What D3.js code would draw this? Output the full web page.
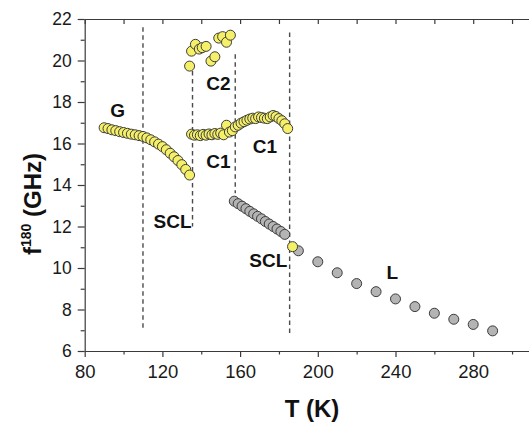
<!DOCTYPE html>
<html>
<head>
<meta charset="utf-8">
<script src="https://cdn.jsdelivr.net/npm/d3@7"></script>
<style>
  body { margin: 0; background: #fff; }
  svg { display: block; }
</style>
</head>
<body>
<script>
const width = 529
const height = 425

// values
const gT = [90, 92, 94, 96, 98, 100, 102, 104, 106, 108, 110, 112, 114, 116, 118, 120, 122, 124, 126, 128, 130, 132, 134]
const gF = [16.76, 16.72, 16.66, 16.62, 16.57, 16.53, 16.49, 16.45, 16.42, 16.38, 16.34, 16.27, 16.18, 16.08, 15.97, 15.85, 15.70, 15.53, 15.36, 15.18, 14.98, 14.75, 14.48]

const c1aT = [135, 136.5, 138, 139.5, 141, 142.5, 144, 145.5, 147, 148.5, 150, 151.5, 153, 154.5]
const c1aF = [16.45, 16.40, 16.42, 16.38, 16.44, 16.40, 16.46, 16.42, 16.48, 16.44, 16.50, 16.42, 16.88, 16.55]

const c1bT = [156, 157.5, 159, 160.5, 162, 163.5, 165, 166.5, 168, 169.5, 171, 172.5, 174, 175.5, 177, 178.5, 180, 181.5, 183, 184.5]
const c1bF = [16.62, 16.80, 16.88, 16.98, 17.05, 17.12, 17.18, 17.22, 17.20, 17.28, 17.25, 17.22, 17.20, 17.28, 17.35, 17.30, 17.20, 17.10, 16.95, 16.72]

const c2T = [134, 135, 137, 139, 140.5, 142.5, 145, 147, 149, 151, 153, 155]
const c2F = [19.73, 20.45, 20.78, 20.55, 20.62, 20.68, 19.97, 20.18, 21.08, 21.15, 20.88, 21.22]

const yellowExtraT = [187]
const yellowExtraF = [11.03]

const sclT = [157, 159, 161, 163, 165, 167, 169, 171, 173, 175, 177, 179, 181, 183]
const sclF = [13.22, 13.10, 12.98, 12.86, 12.73, 12.61, 12.49, 12.37, 12.24, 12.12, 12.00, 11.88, 11.76, 11.62]

const liqT = [190, 200, 210, 220, 230, 240, 250, 260, 270, 280, 290]
const liqF = [10.83, 10.30, 9.77, 9.25, 8.86, 8.51, 8.14, 7.82, 7.53, 7.28, 6.97]

// phase boundaries (dashed lines)
const boundT = [110, 135.5, 157.5, 185.5]
const boundTop = [21.6, 19.5, 20.3, 21.35]
const boundBottom = [7.1, 12.0, 13.6, 6.7]

// region labels
const labelText = ["G", "C2", "C1", "C1", "SCL", "SCL", "L"]
const labelT = [97, 148.8, 148.8, 172.8, 125.2, 174.5, 238.4]
const labelF = [17.28, 18.6, 14.84, 15.54, 11.93, 10.07, 9.47]

const xMajor = [80, 120, 160, 200, 240, 280]
const xMinor = [100, 140, 180, 220, 260, 300]
const xTop = [80, 100, 120, 140, 160, 180, 200, 220, 240, 260, 280, 300]
const yMajor = [6, 8, 10, 12, 14, 16, 18, 20, 22]
const yMinor = [7, 9, 11, 13, 15, 17, 19, 21]

const yellow = "#f5f068"
const grey = "#b4b4b4"
const font = "'Liberation Sans', Arial, sans-serif"

const x = d3.scaleLinear().domain([80, 320]).range([84.7, 550.9])
const y = d3.scaleLinear().domain([6, 22]).range([351, 19])

const svg = d3.select("body").append("svg")
    .attr("width", width)
    .attr("height", height)
    .attr("viewBox", [0, 0, width, height])
    .style("font-family", font)

// axes
const axisColor = "#3a3a3a"

const styleAxis = g => {
  g.selectAll("path, line").attr("stroke", axisColor).attr("stroke-width", 1.2)
  g.selectAll("text").attr("fill", "#1a1a1a").style("font-family", font)
}

svg.append("g")
    .attr("transform", `translate(0,${y(6)})`)
    .call(d3.axisBottom(x).tickValues(xMajor).tickSize(6).tickPadding(8).tickSizeOuter(0))
    .call(g => g.selectAll("text").style("font-size", "18.5px"))
    .call(styleAxis)

svg.append("g")
    .attr("transform", `translate(0,${y(6)})`)
    .call(d3.axisBottom(x).tickValues(xMinor).tickSize(3.5).tickFormat(""))
    .call(g => g.select(".domain").remove())
    .call(styleAxis)

svg.append("g")
    .attr("transform", `translate(0,${y(22)})`)
    .call(d3.axisTop(x).tickValues(xTop).tickSize(-5).tickFormat("").tickSizeOuter(0))
    .call(styleAxis)

svg.append("g")
    .attr("transform", `translate(${x(80)},0)`)
    .call(d3.axisLeft(y).tickValues(yMajor).tickSize(7).tickPadding(6).tickSizeOuter(0))
    .call(g => g.selectAll("text").style("font-size", "17.5px"))
    .call(styleAxis)

svg.append("g")
    .attr("transform", `translate(${x(80)},0)`)
    .call(d3.axisLeft(y).tickValues(yMinor).tickSize(4).tickFormat(""))
    .call(g => g.select(".domain").remove())
    .call(styleAxis)

// dashed boundaries
svg.append("g")
    .selectAll("line")
    .data(boundT)
    .join("line")
    .attr("x1", d => x(d))
    .attr("x2", d => x(d))
    .attr("y1", (d, i) => y(boundTop[i]))
    .attr("y2", (d, i) => y(boundBottom[i]))
    .attr("stroke", "#4a4a4a")
    .attr("stroke-width", 1.4)
    .attr("stroke-dasharray", "4.5,3.5")

// markers
const drawSeries = (ts, fs, fill) => {
  svg.append("g")
      .selectAll("circle")
      .data(ts.map((t, i) => [t, fs[i]]))
      .join("circle")
      .attr("cx", d => x(d[0]))
      .attr("cy", d => y(d[1]))
      .attr("r", 5)
      .attr("fill", fill)
      .attr("stroke", "#3c3c3c")
      .attr("stroke-width", 1)
}

drawSeries(sclT, sclF, grey)
drawSeries(liqT, liqF, grey)
drawSeries(gT, gF, yellow)
drawSeries(c2T, c2F, yellow)
drawSeries(c1aT, c1aF, yellow)
drawSeries(c1bT, c1bF, yellow)
drawSeries(yellowExtraT, yellowExtraF, yellow)

// region labels
svg.append("g")
    .selectAll("text")
    .data(labelText)
    .join("text")
    .attr("x", (d, i) => x(labelT[i]))
    .attr("y", (d, i) => y(labelF[i]))
    .attr("text-anchor", "middle")
    .attr("font-weight", "bold")
    .attr("font-size", 19)
    .attr("fill", "#111")
    .text(d => d)

// axis titles
svg.append("text")
    .attr("x", 312)
    .attr("y", 417)
    .attr("text-anchor", "middle")
    .attr("font-weight", "bold")
    .attr("font-size", 24)
    .attr("fill", "#111")
    .text("T (K)")

const yTitle = svg.append("text")
    .attr("transform", "translate(41,204) rotate(-90)")
    .attr("text-anchor", "middle")
    .attr("font-weight", "bold")
    .attr("font-size", 24)
    .attr("fill", "#111")
yTitle.append("tspan").text("f")
yTitle.append("tspan").attr("font-size", 14).attr("dy", -10).text("180")
yTitle.append("tspan").attr("dy", 10).text(" (GHz)")
</script>
</body>
</html>
